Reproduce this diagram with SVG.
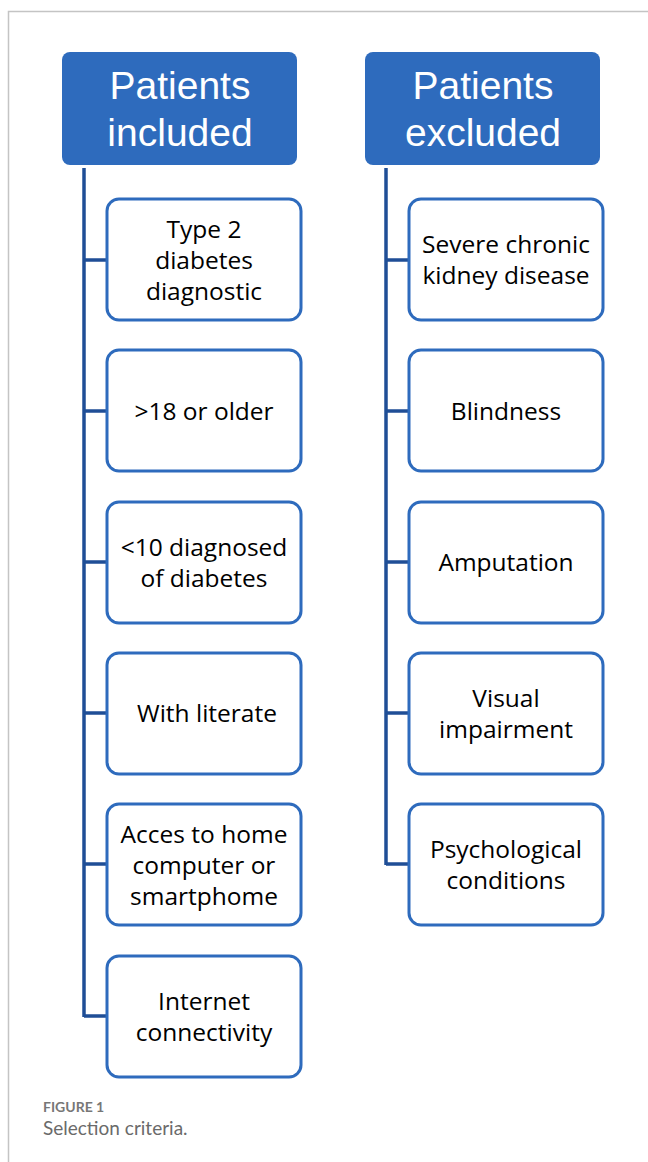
<svg xmlns="http://www.w3.org/2000/svg" width="648" height="1162" viewBox="0 0 648 1162">
<style>
.frame{fill:none;stroke:#c4c4c4;stroke-width:1.5}
.head rect{fill:#2E6BBD}
.head text{fill:#ffffff;font-family:"Liberation Sans",Arial,sans-serif;font-size:39px;text-anchor:middle}
.box rect{fill:#ffffff;stroke:#2E6BBD;stroke-width:3}
.box text{fill:#000000;font-family:"Open Sans","Liberation Sans",sans-serif;font-size:24.5px;text-anchor:middle}
.conn path{fill:none;stroke:#1F4E96;stroke-width:3.5}
.cap1{font-family:"Lato","Open Sans",sans-serif;font-size:14px;font-weight:bold;fill:#777777}
.cap2{font-family:"Lato","Open Sans",sans-serif;font-size:19px;fill:#6a6a6a}
</style>
<path class="frame" d="M648 11.5 H8.5 V1162"/>
<g class="conn">
<path d="M84 168 V1017"/>
<path d="M84 260 H107 M84 411 H107 M84 562 H107 M84 713 H107 M84 864 H107 M84 1016 H107"/>
<path d="M386 168 V865"/>
<path d="M386 260 H409 M386 411 H409 M386 562 H409 M386 713 H409 M386 864 H409"/>
</g>
<g id="inc" class="head"><rect x="62" y="52" width="235" height="113" rx="8"/><text x="180" y="99">Patients</text><text x="180" y="146">included</text></g>
<g id="exc" class="head"><rect x="365" y="52" width="235" height="113" rx="8"/><text x="483" y="99">Patients</text><text x="483" y="146">excluded</text></g>
<g id="i1" class="box"><rect x="107" y="199" width="194" height="121" rx="12"/><text x="204" y="238">Type 2</text><text x="204" y="269">diabetes</text><text x="204" y="300">diagnostic</text></g>
<g id="i2" class="box"><rect x="107" y="350" width="194" height="121" rx="12"/><text x="204" y="420">&gt;18 or older</text></g>
<g id="i3" class="box"><rect x="107" y="502" width="194" height="121" rx="12"/><text x="204" y="556">&lt;10 diagnosed</text><text x="204" y="587">of diabetes</text></g>
<g id="i4" class="box"><rect x="107" y="653" width="194" height="121" rx="12"/><text x="207" y="722">With literate</text></g>
<g id="i5" class="box"><rect x="107" y="804" width="194" height="121" rx="12"/><text x="204" y="843">Acces to home</text><text x="204" y="874">computer or</text><text x="204" y="905">smartphome</text></g>
<g id="i6" class="box"><rect x="107" y="956" width="194" height="121" rx="12"/><text x="204" y="1010">Internet</text><text x="204" y="1041">connectivity</text></g>
<g id="e1" class="box"><rect x="409" y="199" width="194" height="121" rx="12"/><text x="506" y="253">Severe chronic</text><text x="506" y="284">kidney disease</text></g>
<g id="e2" class="box"><rect x="409" y="350" width="194" height="121" rx="12"/><text x="506" y="420">Blindness</text></g>
<g id="e3" class="box"><rect x="409" y="502" width="194" height="121" rx="12"/><text x="506" y="571">Amputation</text></g>
<g id="e4" class="box"><rect x="409" y="653" width="194" height="121" rx="12"/><text x="506" y="707">Visual</text><text x="506" y="738">impairment</text></g>
<g id="e5" class="box"><rect x="409" y="804" width="194" height="121" rx="12"/><text x="506" y="858">Psychological</text><text x="506" y="889">conditions</text></g>
<text class="cap1" x="43" y="1112">FIGURE 1</text>
<text class="cap2" x="43" y="1135">Selection criteria.</text>
</svg>
